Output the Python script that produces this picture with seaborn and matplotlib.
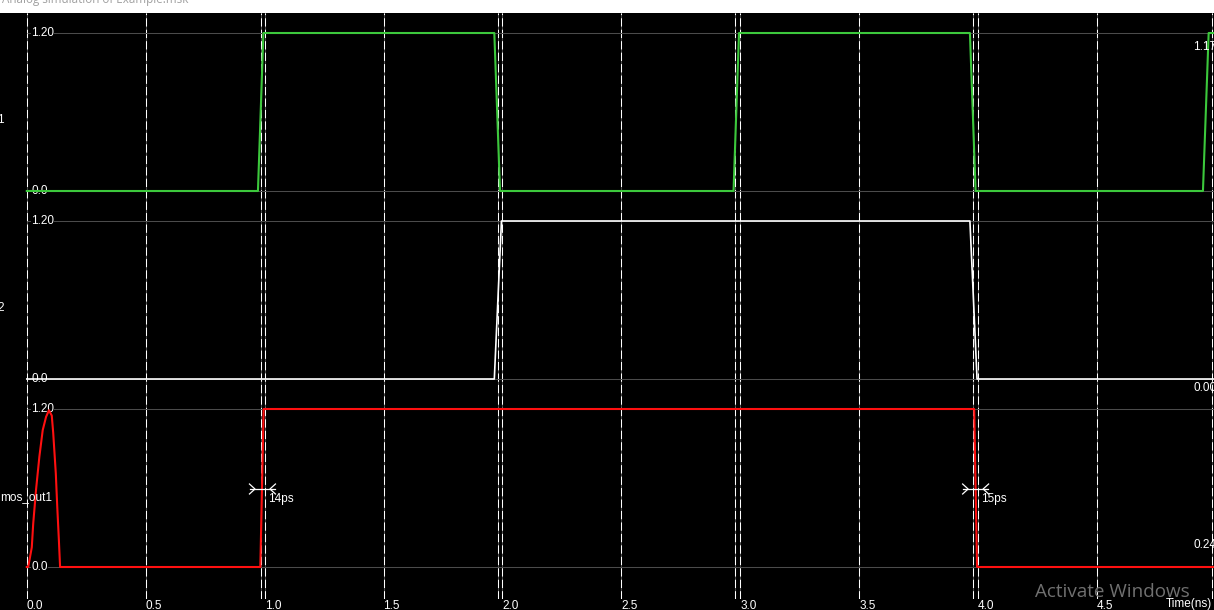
import numpy as np
import pandas as pd
import matplotlib
matplotlib.use("Agg")
import matplotlib.pyplot as plt
import seaborn as sns
from matplotlib.patches import Rectangle

# ---------------- data ----------------
in1_time = [0.0, 0.972, 0.995, 1.966, 1.990, 2.972, 2.995, 3.966, 3.990, 4.946, 4.970, 5.0]
in1_volt = [0.0, 0.0, 1.2, 1.2, 0.0, 0.0, 1.2, 1.2, 0.0, 0.0, 1.2, 1.2]

in2_time = [0.0, 1.966, 1.996, 3.966, 3.996, 5.0]
in2_volt = [0.0, 0.0, 1.2, 1.2, 0.0, 0.0]

out_time = [0.0, 0.006, 0.021, 0.027, 0.039, 0.053, 0.067, 0.081, 0.093, 0.105,
            0.111, 0.122, 0.128, 0.135, 0.140, 0.982, 0.996, 3.984, 3.996, 5.0]
out_volt = [0.0, 0.0, 0.15, 0.33, 0.59, 0.84, 1.04, 1.14, 1.19, 1.15,
            1.02, 0.71, 0.46, 0.20, 0.0, 0.0, 1.2, 1.2, 0.0, 0.0]

signal_names = ["1", "2", "mos_out1"]
level_labels = ["1.20", "0.0"]
level_values = [1.2, 0.0]
grid_times = [0.0, 0.5, 1.0, 1.5, 2.0, 2.5, 3.0, 3.5, 4.0, 4.5]
tick_labels = ["0.0", "0.5", "1.0", "1.5", "2.0", "2.5", "3.0", "3.5", "4.0", "4.5"]
cursor_times = [0.983, 1.980, 2.980, 3.980, 4.985]
meas_centers = [0.991, 3.990]
meas_labels = ["14ps", "15ps"]
cursor_values = ["1.17", "0.00", "0.24"]

# ---------------- figure layout ----------------
W, H = 1214, 610
PX_PER_NS = 237.8
X0 = 26.8
plt.rcParams["font.family"] = ["Liberation Sans", "DejaVu Sans"]

def fx(px):
    return px / W

def fy(py):
    return 1 - py / H

fig = plt.figure(figsize=(W / 100, H / 100), dpi=100, facecolor="black")
xlim = (-X0 / PX_PER_NS, (W - X0) / PX_PER_NS)

# white title strip
fig.patches.append(Rectangle((0, fy(13)), 1, 13 / H, transform=fig.transFigure,
                             facecolor="white", edgecolor="none", zorder=0))
fig.text(fx(2), fy(2.7), "Analog simulation of Example.msk", ha="left", va="baseline",
         fontsize=8.4, color="#a0a0a0", family=["Open Sans", "DejaVu Sans"])

# background axes with the vertical grid and time axis
bg = fig.add_axes([0, fy(599), 1, fy(13) - fy(599)])
bg.set_facecolor("black")
bg.set_xlim(xlim)
bg.set_ylim(0, 1)
for s in bg.spines.values():
    s.set_visible(False)
bg.set_yticks([])
bg.set_xticks(grid_times)
bg.set_xticklabels(tick_labels, ha="left")
bg.tick_params(axis="x", length=0, pad=0.5, colors="white", labelsize=8.5)
for t in grid_times + cursor_times:
    bg.axvline(t, color="#4b4b4b", lw=0.75, zorder=1)
    bg.axvline(t, color="white", lw=0.75, dashes=(8, 3), zorder=2)

fig.text(fx(1166), fy(604.5), "Time(ns)", ha="left", va="center", fontsize=8.5, color="white")

# signal panels
series = [
    (in1_time, in1_volt, "#3cc83c", 1.5),
    (in2_time, in2_volt, "white", 1.2),
    (out_time, out_volt, "#ff1010", 1.5),
]
dv = 1.2 / 158.0
dt = 1.0 / PX_PER_NS
axes = []
for i, (tt, vv, col, lw) in enumerate(series):
    top = 13 + 188 * i
    bot = 201 + 188 * i
    ax = fig.add_axes([0, fy(bot), 1, fy(top) - fy(bot)])
    ax.patch.set_alpha(0)
    ax.hlines(level_values, 0, xlim[1], color="#4b4b4b", lw=0.75, zorder=1)
    for lab, val in zip(level_labels, level_values):
        ax.text(4.2 * dt, val, lab, ha="left", va="center", fontsize=8.5, color="white",
                zorder=2, bbox=dict(facecolor="black", edgecolor="none", pad=0.3))
    df = pd.DataFrame({"t": tt, "v": vv})
    sns.lineplot(data=df, x="t", y="v", ax=ax, color=col, lw=lw, estimator=None,
                 sort=False, legend=False, zorder=3)
    ax.set_xlim(xlim)
    ax.set_ylim(-10 * dv, 1.2 + 20 * dv)
    ax.axis("off")
    axes.append(ax)

# signal names at the left (clipped by the window)
fig.text(fx(4), fy(120), signal_names[0], ha="right", va="center", fontsize=8.5, color="white")
fig.text(fx(4), fy(308), signal_names[1], ha="right", va="center", fontsize=8.5, color="white")
fig.text(fx(0), fy(497), signal_names[2], ha="left", va="center", fontsize=8.5, color="white")

# cursor readings on the right
for lab, py in zip(cursor_values, [47, 388, 545]):
    fig.text(fx(1193), fy(py), lab, ha="left", va="center", fontsize=8.5, color="white")

# delay measurement markers
ax3 = axes[2]
v0 = (567 - 489) * dv
for c, lab in zip(meas_centers, meas_labels):
    ax3.plot([c - 12.5 * dt, c + 12.5 * dt], [v0, v0], color="white", lw=0.9, zorder=5)
    for side in (-1, 1):
        tip = c + side * 13 * dt
        inner = c + side * 7.5 * dt
        ax3.plot([tip, inner, tip], [v0 + 5 * dv, v0, v0 - 5 * dv], color="white",
                 lw=0.9, zorder=5)
    ax3.text(c + 5.5 * dt, (567 - 499) * dv, lab, ha="left", va="center", fontsize=8.5,
             color="white", zorder=5)

# Windows activation watermark
fig.text(fx(1035), fy(592), "Activate Windows", ha="left", va="center", fontsize=13.6,
         color="#707070", family=["Open Sans", "DejaVu Sans"])

fig.savefig("out.png", dpi=100, facecolor="black")
